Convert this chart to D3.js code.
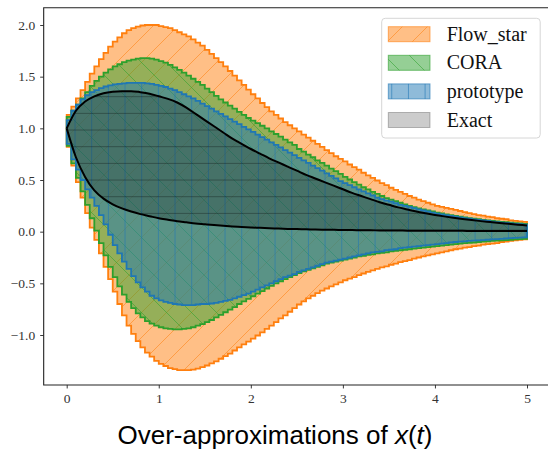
<!DOCTYPE html>
<html>
<head>
<meta charset="utf-8">
<script src="https://cdn.jsdelivr.net/npm/d3@7"></script>
<style>
  html, body { margin: 0; padding: 0; background: #fff; }
  svg { display: block; }
</style>
</head>
<body>
<div id="chart"></div>
<script>
// box enclosures, one value per time step of 0.05 (t = 0 .. 5)
const stepSize = 0.05

const flowHi = [
  1.13, 1.21, 1.29, 1.37, 1.45, 1.53, 1.60, 1.67, 1.73, 1.79,
  1.84, 1.88, 1.92, 1.95, 1.97, 1.985, 1.995, 2.0, 2.0, 2.0,
  1.99, 1.98, 1.97, 1.95, 1.93, 1.91, 1.89, 1.86, 1.83, 1.80,
  1.76, 1.72, 1.68, 1.64, 1.60, 1.555, 1.51, 1.465, 1.42, 1.375,
  1.33, 1.29, 1.245, 1.205, 1.165, 1.13, 1.095, 1.06, 1.03, 1.00,
  0.97, 0.94, 0.91, 0.88, 0.85, 0.82, 0.79, 0.76, 0.73, 0.705,
  0.68, 0.65, 0.625, 0.60, 0.57, 0.545, 0.52, 0.495, 0.47, 0.45,
  0.425, 0.405, 0.385, 0.365, 0.345, 0.33, 0.31, 0.295, 0.28, 0.265,
  0.25, 0.24, 0.23, 0.22, 0.21, 0.20, 0.19, 0.18, 0.17, 0.16,
  0.155, 0.145, 0.14, 0.13, 0.125, 0.12, 0.11, 0.105, 0.10, 0.095
]
const flowLo = [
  0.82, 0.64, 0.48, 0.33, 0.18, 0.04, -0.08, -0.21, -0.34, -0.46,
  -0.58, -0.70, -0.81, -0.91, -0.99, -1.06, -1.12, -1.17, -1.21, -1.25,
  -1.28, -1.30, -1.32, -1.33, -1.34, -1.34, -1.34, -1.335, -1.325, -1.31,
  -1.295, -1.275, -1.255, -1.23, -1.205, -1.18, -1.15, -1.12, -1.09, -1.065,
  -1.035, -1.005, -0.975, -0.94, -0.91, -0.875, -0.84, -0.81, -0.775, -0.74,
  -0.705, -0.675, -0.645, -0.62, -0.595, -0.57, -0.55, -0.53, -0.51, -0.49,
  -0.47, -0.455, -0.44, -0.42, -0.405, -0.39, -0.375, -0.36, -0.345, -0.335,
  -0.32, -0.31, -0.295, -0.285, -0.275, -0.26, -0.25, -0.24, -0.23, -0.22,
  -0.21, -0.20, -0.19, -0.18, -0.17, -0.165, -0.155, -0.15, -0.14, -0.135,
  -0.125, -0.12, -0.115, -0.11, -0.10, -0.095, -0.09, -0.085, -0.08, -0.075
]
const coraHi = [
  1.11, 1.17, 1.23, 1.29, 1.35, 1.41, 1.46, 1.50, 1.54, 1.57,
  1.60, 1.62, 1.64, 1.655, 1.665, 1.675, 1.68, 1.68, 1.675, 1.665,
  1.65, 1.635, 1.615, 1.59, 1.565, 1.54, 1.51, 1.48, 1.45, 1.42,
  1.385, 1.35, 1.315, 1.28, 1.25, 1.22, 1.19, 1.16, 1.13, 1.10,
  1.075, 1.05, 1.025, 1.00, 0.97, 0.945, 0.92, 0.89, 0.865, 0.84,
  0.80, 0.775, 0.745, 0.72, 0.69, 0.665, 0.64, 0.61, 0.585, 0.56,
  0.53, 0.505, 0.48, 0.455, 0.43, 0.41, 0.385, 0.365, 0.345, 0.325,
  0.31, 0.295, 0.28, 0.265, 0.25, 0.238, 0.226, 0.215, 0.205, 0.195,
  0.185, 0.176, 0.168, 0.16, 0.152, 0.145, 0.138, 0.132, 0.126, 0.12,
  0.115, 0.11, 0.105, 0.10, 0.095, 0.091, 0.087, 0.083, 0.079, 0.076
]
const coraLo = [
  0.83, 0.66, 0.52, 0.39, 0.26, 0.13, 0.01, -0.11, -0.23, -0.34,
  -0.44, -0.53, -0.61, -0.68, -0.74, -0.79, -0.83, -0.865, -0.89, -0.91,
  -0.925, -0.935, -0.94, -0.945, -0.945, -0.94, -0.935, -0.925, -0.91, -0.895,
  -0.875, -0.855, -0.83, -0.805, -0.78, -0.755, -0.73, -0.70, -0.675, -0.65,
  -0.625, -0.60, -0.575, -0.55, -0.525, -0.50, -0.48, -0.46, -0.44, -0.42,
  -0.40, -0.385, -0.37, -0.355, -0.34, -0.325, -0.31, -0.30, -0.29, -0.28,
  -0.27, -0.26, -0.25, -0.24, -0.235, -0.225, -0.22, -0.21, -0.205, -0.20,
  -0.19, -0.185, -0.18, -0.175, -0.17, -0.165, -0.16, -0.155, -0.15, -0.145,
  -0.14, -0.135, -0.13, -0.125, -0.12, -0.115, -0.11, -0.108, -0.105, -0.10,
  -0.097, -0.094, -0.09, -0.087, -0.084, -0.081, -0.078, -0.075, -0.072, -0.07
]
const protoHi = [
  1.08, 1.17, 1.23, 1.28, 1.32, 1.35, 1.37, 1.39, 1.405, 1.415,
  1.425, 1.43, 1.435, 1.44, 1.44, 1.44, 1.44, 1.435, 1.43, 1.42,
  1.41, 1.40, 1.385, 1.37, 1.35, 1.33, 1.31, 1.29, 1.265, 1.24,
  1.215, 1.19, 1.165, 1.14, 1.115, 1.09, 1.065, 1.04, 1.015, 0.99,
  0.965, 0.94, 0.915, 0.89, 0.865, 0.84, 0.815, 0.79, 0.765, 0.74,
  0.715, 0.69, 0.665, 0.64, 0.615, 0.59, 0.565, 0.54, 0.515, 0.49,
  0.47, 0.45, 0.43, 0.41, 0.39, 0.37, 0.35, 0.33, 0.315, 0.30,
  0.29, 0.275, 0.26, 0.25, 0.24, 0.228, 0.216, 0.205, 0.195, 0.185,
  0.175, 0.167, 0.16, 0.152, 0.145, 0.138, 0.131, 0.125, 0.119, 0.113,
  0.108, 0.103, 0.098, 0.093, 0.088, 0.084, 0.08, 0.076, 0.072, 0.068
]
const protoLo = [
  0.85, 0.70, 0.60, 0.50, 0.41, 0.33, 0.25, 0.16, 0.07, -0.03,
  -0.13, -0.21, -0.29, -0.36, -0.43, -0.49, -0.54, -0.58, -0.62, -0.645,
  -0.665, -0.68, -0.69, -0.70, -0.705, -0.71, -0.71, -0.71, -0.705, -0.70,
  -0.70, -0.695, -0.69, -0.68, -0.67, -0.66, -0.645, -0.63, -0.615, -0.60,
  -0.58, -0.56, -0.54, -0.52, -0.50, -0.48, -0.46, -0.44, -0.425, -0.41,
  -0.39, -0.375, -0.36, -0.345, -0.33, -0.315, -0.30, -0.29, -0.28, -0.27,
  -0.26, -0.25, -0.24, -0.23, -0.22, -0.21, -0.20, -0.195, -0.19, -0.18,
  -0.175, -0.17, -0.16, -0.155, -0.15, -0.145, -0.14, -0.135, -0.13, -0.125,
  -0.12, -0.115, -0.11, -0.105, -0.10, -0.097, -0.094, -0.09, -0.087, -0.084,
  -0.081, -0.078, -0.075, -0.072, -0.069, -0.066, -0.063, -0.06, -0.057, -0.055
]

// exact reachable set, sampled every 0.1
const exactStep = 0.1
const exactHi = [
  1.00, 1.17, 1.26, 1.31, 1.34, 1.355, 1.36, 1.36, 1.35, 1.335,
  1.31, 1.285, 1.25, 1.20, 1.14, 1.08, 1.02, 0.96, 0.90, 0.85,
  0.80, 0.755, 0.71, 0.67, 0.63, 0.59, 0.55, 0.515, 0.48, 0.445,
  0.41, 0.375, 0.345, 0.315, 0.285, 0.26, 0.235, 0.215, 0.195, 0.178,
  0.162, 0.148, 0.135, 0.123, 0.112, 0.102, 0.093, 0.084, 0.076, 0.068, 0.06
]
const exactLo = [
  1.00, 0.72, 0.53, 0.40, 0.32, 0.265, 0.225, 0.195, 0.17, 0.15,
  0.13, 0.115, 0.10, 0.09, 0.08, 0.072, 0.064, 0.057, 0.051, 0.046,
  0.041, 0.037, 0.033, 0.030, 0.027, 0.025, 0.023, 0.021, 0.019, 0.018,
  0.016, 0.015, 0.014, 0.013, 0.012, 0.011, 0.011, 0.010, 0.010, 0.009,
  0.009, 0.008, 0.008, 0.008, 0.007, 0.007, 0.007, 0.007, 0.006, 0.006, 0.006
]

const xTicks = [0, 1, 2, 3, 4, 5]
const yTicks = [-1.0, -0.5, 0.0, 0.5, 1.0, 1.5, 2.0]
const legendLabels = ['Flow_star', 'CORA', 'prototype', 'Exact']

const width = 548
const height = 449

const x = d3.scaleLinear().domain([0, 5]).range([66.7, 527.0])
const y = d3.scaleLinear().domain([-1, 2]).range([335.0, 25.0])
const plot = { left: x(-0.25), right: x(5.25), top: y(2.1665), bottom: y(-1.4835) }

const svg = d3.select('#chart').append('svg')
  .attr('width', width)
  .attr('height', height)

const defs = svg.append('defs')

defs.append('clipPath').attr('id', 'plot-clip')
  .append('rect')
  .attr('x', plot.left).attr('y', plot.top)
  .attr('width', plot.right - plot.left).attr('height', plot.bottom - plot.top)

// hatch patterns, aligned to the page like matplotlib does
function hatch(id, w, h, d, color, opacity, offX = 0, offY = 0) {
  const p = defs.append('pattern')
    .attr('id', id)
    .attr('patternUnits', 'userSpaceOnUse')
    .attr('x', offX).attr('y', offY)
    .attr('width', w).attr('height', h)
  p.append('path')
    .attr('d', d)
    .attr('stroke', color)
    .attr('stroke-opacity', opacity)
    .attr('stroke-width', 1)
    .attr('fill', 'none')
}
const hs = 25
hatch('h-flow', hs, hs,
  `M0,${hs} L${hs},0 M${-hs / 2},${hs / 2} L${hs / 2},${-hs / 2} M${hs / 2},${hs * 1.5} L${hs * 1.5},${hs / 2}`,
  '#ff7f0e', 0.55, 4, 0)
hatch('h-cora', hs, hs,
  `M0,0 L${hs},${hs} M${-hs / 2},${hs / 2} L${hs / 2},${hs * 1.5} M${hs / 2},${-hs / 2} L${hs * 1.5},${hs / 2}`,
  '#2ca02c', 0.55, 4, 0)
const vs = 16.67
hatch('h-proto', vs, vs, `M${vs / 2},0 V${vs}`, '#1f77b4', 0.6, 0, 0)
hatch('h-exact', vs, vs, `M0,${vs / 2} H${vs}`, '#000', 0.3, 0, 5)

// turn per-step boxes into points for a step area
function boxes(hi, lo) {
  const pts = hi.map((h, i) => ({ t: i * stepSize, hi: h, lo: lo[i] }))
  const last = pts[pts.length - 1]
  pts.push({ t: hi.length * stepSize, hi: last.hi, lo: last.lo })
  return pts
}

const stepArea = d3.area()
  .x(d => x(d.t))
  .y0(d => y(d.lo))
  .y1(d => y(d.hi))
  .curve(d3.curveStepAfter)

const sets = [
  { name: 'Flow_star', pts: boxes(flowHi, flowLo), color: '#ff7f0e', pattern: 'h-flow' },
  { name: 'CORA', pts: boxes(coraHi, coraLo), color: '#2ca02c', pattern: 'h-cora' },
  { name: 'prototype', pts: boxes(protoHi, protoLo), color: '#1f77b4', pattern: 'h-proto' }
]

const g = svg.append('g').attr('clip-path', 'url(#plot-clip)')

sets.forEach(s => {
  const d = stepArea(s.pts)
  g.append('path').attr('d', d).attr('fill', s.color).attr('fill-opacity', 0.5)
  g.append('path').attr('d', d).attr('fill', `url(#${s.pattern})`)
  g.append('path').attr('d', d)
    .attr('fill', 'none')
    .attr('stroke', s.color)
    .attr('stroke-width', 1.8)
    .attr('stroke-linejoin', 'miter')
})

// exact set
const exactPts = exactHi.map((h, i) => ({ t: i * exactStep, hi: h, lo: exactLo[i] }))
const exactArea = d3.area()
  .x(d => x(d.t)).y0(d => y(d.lo)).y1(d => y(d.hi))
  .curve(d3.curveMonotoneX)
const exactD = exactArea(exactPts)
g.append('path').attr('d', exactD).attr('fill', '#000').attr('fill-opacity', 0.22)
g.append('path').attr('d', exactD).attr('fill', 'url(#h-exact)')

const line = d3.line().x(d => x(d.t)).curve(d3.curveMonotoneX)
g.append('path').datum(exactPts)
  .attr('d', line.y(d => y(d.hi)))
  .attr('fill', 'none').attr('stroke', '#000').attr('stroke-width', 2)
g.append('path').datum(exactPts)
  .attr('d', line.y(d => y(d.lo)))
  .attr('fill', 'none').attr('stroke', '#000').attr('stroke-width', 2)

// axes
const tickFont = "'Liberation Serif', 'DejaVu Serif', serif"

const xAxis = svg.append('g')
  .attr('transform', `translate(0,${plot.bottom})`)
  .call(d3.axisBottom(x).tickValues(xTicks).tickSize(3.5).tickPadding(5).tickFormat(d3.format('d')))
const yAxis = svg.append('g')
  .attr('transform', `translate(${plot.left},0)`)
  .call(d3.axisLeft(y).tickValues(yTicks).tickSize(3.5).tickPadding(5).tickFormat(d3.format('.1f')))

;[xAxis, yAxis].forEach(a => {
  a.select('.domain').remove()
  a.selectAll('line').attr('stroke', '#222').attr('stroke-width', 0.9)
  a.selectAll('text')
    .attr('fill', '#333')
    .style('font-family', tickFont)
    .style('font-size', '13.5px')
})

// spines
svg.append('path')
  .attr('d', `M${plot.right},${plot.top} H${plot.left} V${plot.bottom} H${plot.right}`)
  .attr('fill', 'none')
  .attr('stroke', '#222')
  .attr('stroke-width', 1.1)

// legend
const lg = svg.append('g')
lg.append('rect')
  .attr('x', 381.7).attr('y', 18.3)
  .attr('width', 158.5).attr('height', 119.7)
  .attr('rx', 3.5)
  .attr('fill', '#fff').attr('fill-opacity', 0.8)
  .attr('stroke', '#d6d6d6').attr('stroke-width', 1)

const legendItems = [
  { fill: '#ff7f0e', fillOpacity: 0.5, stroke: '#ff7f0e', pattern: 'h-flow' },
  { fill: '#2ca02c', fillOpacity: 0.5, stroke: '#2ca02c', pattern: 'h-cora' },
  { fill: '#1f77b4', fillOpacity: 0.5, stroke: '#1f77b4', pattern: 'h-proto' },
  { fill: '#000', fillOpacity: 0.2, stroke: '#000', pattern: null }
]

legendLabels.forEach((label, i) => {
  const it = legendItems[i]
  const top = 26.7 + i * 28.6
  lg.append('rect')
    .attr('x', 388.3).attr('y', top).attr('width', 41.7).attr('height', 15)
    .attr('fill', it.fill).attr('fill-opacity', it.fillOpacity)
  if (it.pattern) {
    lg.append('rect')
      .attr('x', 388.3).attr('y', top).attr('width', 41.7).attr('height', 15)
      .attr('fill', `url(#${it.pattern})`)
  }
  lg.append('rect')
    .attr('x', 388.3).attr('y', top).attr('width', 41.7).attr('height', 15)
    .attr('fill', 'none').attr('stroke', it.stroke)
    .attr('stroke-opacity', it.pattern ? 0.6 : 0.25).attr('stroke-width', 1)
  lg.append('text')
    .attr('x', 446.7).attr('y', top + 14)
    .attr('fill', '#111')
    .style('font-family', tickFont)
    .style('font-size', '20px')
    .text(label)
})

// title below the axes
const title = svg.append('text')
  .attr('x', 275)
  .attr('y', 444)
  .attr('text-anchor', 'middle')
  .attr('fill', '#000')
  .style('font-family', "'Liberation Sans', 'DejaVu Sans', sans-serif")
  .style('font-size', '26px')
title.append('tspan').text('Over-approximations of ')
title.append('tspan').style('font-style', 'italic').text('x')
title.append('tspan').text('(')
title.append('tspan').style('font-style', 'italic').text('t')
title.append('tspan').text(')')
</script>
</body>
</html>
